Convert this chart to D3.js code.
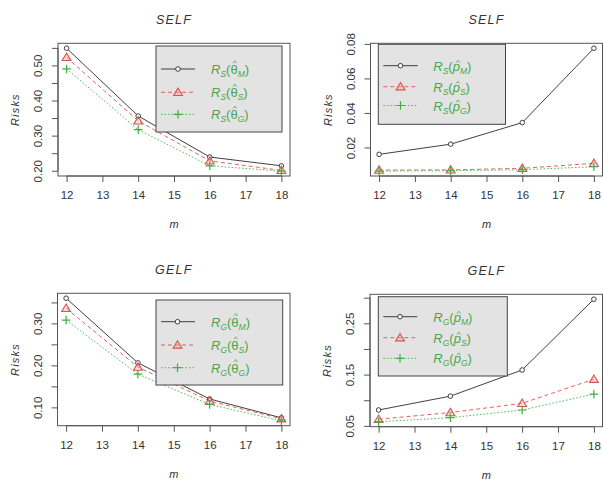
<!DOCTYPE html>
<html>
<head>
<meta charset="utf-8">
<script src="https://cdn.jsdelivr.net/npm/d3@7"></script>
<style>
  html, body { margin: 0; padding: 0; background: #fff; }
  svg { display: block; font-family: "Liberation Sans", Arial, sans-serif; }
</style>
</head>
<body>
<svg id="chart" width="603" height="480"></svg>
<script>
// ---------------- data ----------------
const mValues = [12, 14, 16, 18];
const xTicks = [12, 13, 14, 15, 16, 17, 18];

// SELF, theta estimators
const selfThetaM = [0.549, 0.356, 0.239, 0.214];
const selfThetaS = [0.523, 0.342, 0.228, 0.201];
const selfThetaG = [0.490, 0.317, 0.214, 0.199];
// SELF, p estimators
const selfPM = [0.0160, 0.0219, 0.0344, 0.0775];
const selfPS = [0.0069, 0.0070, 0.0079, 0.0108];
const selfPG = [0.0063, 0.0065, 0.0071, 0.0088];
// GELF, theta estimators
const gelfThetaM = [0.360, 0.206, 0.120, 0.075];
const gelfThetaS = [0.336, 0.196, 0.115, 0.073];
const gelfThetaG = [0.308, 0.179, 0.107, 0.068];
// GELF, p estimators
const gelfPM = [0.081, 0.108, 0.159, 0.297];
const gelfPS = [0.063, 0.076, 0.094, 0.141];
const gelfPG = [0.058, 0.066, 0.081, 0.112];

// y ticks and labelled ticks
const yTicksSelfTheta = [0.20, 0.25, 0.30, 0.35, 0.40, 0.45, 0.50, 0.55];
const yLabelsSelfTheta = [0.20, 0.30, 0.40, 0.50];
const yTicksSelfP = [0.02, 0.04, 0.06, 0.08];
const yLabelsSelfP = [0.02, 0.04, 0.06, 0.08];
const yTicksGelfTheta = [0.10, 0.15, 0.20, 0.25, 0.30, 0.35];
const yLabelsGelfTheta = [0.10, 0.20, 0.30];
const yTicksGelfP = [0.05, 0.10, 0.15, 0.20, 0.25, 0.30];
const yLabelsGelfP = [0.05, 0.15, 0.25];

const titles = ["SELF", "SELF", "GELF", "GELF"];
const estimatorSubs = ["M", "S", "G"];

// ---------------- styles ----------------
const seriesStyle = [
  { color: "#2b2b2b", dash: null, width: 0.9, shape: "circle" },
  { color: "#d9534f", dash: "4,3", width: 0.9, shape: "triangle" },
  { color: "#3cb043", dash: "1.5,2", width: 0.9, shape: "plus" }
];
const legendTextColor = "#4aa64a";

const panels = [
  { title: titles[0], loss: "S", param: "θ", series: [selfThetaM, selfThetaS, selfThetaG],
    ticks: yTicksSelfTheta, labels: yLabelsSelfTheta, fmt: ".2f",
    box: { x0: 58, x1: 290, y0: 43.3, y1: 176 },
    legend: { x0: 156, x1: 282, y0: 46, y1: 132, rows: [69, 92.3, 114.3], lx0: 161, lx1: 195, sx: 178, tx: 211 } },
  { title: titles[1], loss: "S", param: "p", series: [selfPM, selfPS, selfPG],
    ticks: yTicksSelfP, labels: yLabelsSelfP, fmt: ".2f",
    box: { x0: 370.5, x1: 602.5, y0: 43.3, y1: 176 },
    legend: { x0: 378.3, x1: 505.5, y0: 44.3, y1: 124.3, rows: [65.7, 86.7, 105.5], lx0: 383.3, lx1: 417.7, sx: 400.5, tx: 433.3 } },
  { title: titles[2], loss: "G", param: "θ", series: [gelfThetaM, gelfThetaS, gelfThetaG],
    ticks: yTicksGelfTheta, labels: yLabelsGelfTheta, fmt: ".2f",
    box: { x0: 57.5, x1: 290, y0: 293.3, y1: 425.7 },
    legend: { x0: 156, x1: 282.7, y0: 300, y1: 385, rows: [321.7, 345, 367.7], lx0: 161, lx1: 195, sx: 177.5, tx: 211 } },
  { title: titles[3], loss: "G", param: "p", series: [gelfPM, gelfPS, gelfPG],
    ticks: yTicksGelfP, labels: yLabelsGelfP, fmt: ".2f",
    box: { x0: 370, x1: 602.5, y0: 294.3, y1: 426.7 },
    legend: { x0: 378.3, x1: 507.3, y0: 296.7, y1: 376, rows: [316.7, 337.7, 358.3], lx0: 383.3, lx1: 417.3, sx: 400, tx: 433.3 } }
];

const svg = d3.select("#chart");

function drawSymbol(g, shape, x, y, color) {
  if (shape === "circle") {
    g.append("circle").attr("cx", x).attr("cy", y).attr("r", 2.3)
      .attr("fill", "#fff").attr("stroke", color).attr("stroke-width", 0.9);
  } else if (shape === "triangle") {
    const s = 4.2;
    g.append("path")
      .attr("d", `M${x},${y - s} L${x + s * 1.05},${y + s * 0.75} L${x - s * 1.05},${y + s * 0.75} Z`)
      .attr("fill", "rgba(240,170,150,0.35)").attr("stroke", color).attr("stroke-width", 1.1);
  } else {
    const s = 4.3;
    g.append("path")
      .attr("d", `M${x - s},${y} H${x + s} M${x},${y - s} V${y + s}`)
      .attr("stroke", color).attr("stroke-width", 1.2).attr("fill", "none");
  }
}

function legendLabel(g, x, y, loss, param, sub) {
  const t = g.append("text").attr("x", x).attr("y", y + 5).attr("fill", legendTextColor)
    .attr("font-size", 13);
  t.append("tspan").text("R").attr("font-style", "italic");
  t.append("tspan").text(loss).attr("font-size", 8.5).attr("font-style", "italic").attr("dy", 3);
  t.append("tspan").text("(").attr("dy", -3);
  t.append("tspan").text(param).attr("font-style", param === "p" ? "italic" : "normal");
  t.append("tspan").text(sub).attr("font-size", 8.5).attr("font-style", "italic").attr("dy", 3);
  t.append("tspan").text(")").attr("dy", -3);
  // hat over the parameter symbol (character index 3), drawn as a small chevron
  const ext = t.node().getExtentOfChar(3);
  const hx = ext.x + ext.width / 2 + (param === "p" ? 1.5 : 0.8);
  const hy = ext.y - (param === "p" ? -1.5 : 1.2);
  g.append("path").attr("d", `M${hx - 1.8},${hy + 2.4} L${hx},${hy} L${hx + 1.8},${hy + 2.4}`)
    .attr("fill", "none").attr("stroke", legendTextColor).attr("stroke-width", 0.8);
}

panels.forEach(p => {
  const g = svg.append("g");
  const b = p.box;
  const all = p.series.flat();
  const lo = d3.min(all), hi = d3.max(all), pad = (hi - lo) * 0.04;
  const x = d3.scaleLinear().domain([11.76, 18.24]).range([b.x0, b.x1]);
  const y = d3.scaleLinear().domain([lo - pad, hi + pad]).range([b.y1, b.y0]);

  // series lines and points
  p.series.forEach((vals, i) => {
    const st = seriesStyle[i];
    const line = d3.line().x((d, j) => x(mValues[j])).y(d => y(d));
    g.append("path").datum(vals).attr("d", line).attr("fill", "none")
      .attr("stroke", st.color).attr("stroke-width", st.width)
      .attr("stroke-dasharray", st.dash);
  });
  p.series.forEach((vals, i) => {
    const st = seriesStyle[i];
    vals.forEach((v, j) => drawSymbol(g, st.shape, x(mValues[j]), y(v), st.color));
  });

  // box
  g.append("rect").attr("x", b.x0).attr("y", b.y0).attr("width", b.x1 - b.x0).attr("height", b.y1 - b.y0)
    .attr("fill", "none").attr("stroke", "#555").attr("stroke-width", 1);

  // x axis
  const xAxis = d3.axisBottom(x).tickValues(xTicks).tickSize(6).tickPadding(9).tickFormat(d3.format("d"));
  const xg = g.append("g").attr("transform", `translate(0,${b.y1})`).call(xAxis);
  xg.select(".domain").attr("stroke", "#555").attr("d", `M${x(12)},0H${x(18)}`);
  xg.selectAll(".tick line").attr("stroke", "#555");
  xg.selectAll(".tick text").attr("font-size", 11.5).attr("fill", "#333")
    .attr("font-family", "Liberation Sans, Arial, sans-serif");

  // y axis
  const yAxis = d3.axisLeft(y).tickValues(p.ticks).tickSize(6)
    .tickFormat(d => p.labels.some(l => Math.abs(l - d) < 1e-9) ? d3.format(p.fmt)(d) : "");
  const yg = g.append("g").attr("transform", `translate(${b.x0},0)`).call(yAxis);
  yg.select(".domain").attr("stroke", "#555")
    .attr("d", `M0,${y(p.ticks[0])}V${y(p.ticks[p.ticks.length - 1])}`);
  yg.selectAll(".tick line").attr("stroke", "#555");
  yg.selectAll(".tick text").attr("font-size", 11.5).attr("fill", "#333")
    .attr("font-family", "Liberation Sans, Arial, sans-serif")
    .attr("x", null).attr("dy", null).attr("text-anchor", "middle")
    .attr("transform", "translate(-16,0) rotate(-90)");

  // titles
  g.append("text").attr("x", (b.x0 + b.x1) / 2).attr("y", b.y0 - 19.5).attr("text-anchor", "middle")
    .attr("font-size", 12.5).attr("font-style", "italic").attr("letter-spacing", 1.2)
    .attr("fill", "#333").text(p.title);
  g.append("text").attr("x", (b.x0 + b.x1) / 2).attr("y", b.y1 + 52).attr("text-anchor", "middle")
    .attr("font-size", 11).attr("font-style", "italic").attr("fill", "#333").text("m");
  g.append("text").attr("transform", `translate(${b.x0 - 39},${(b.y0 + b.y1) / 2}) rotate(-90)`)
    .attr("text-anchor", "middle").attr("font-size", 11).attr("font-style", "italic")
    .attr("letter-spacing", 1.2).attr("fill", "#333").text("Risks");

  // legend
  const L = p.legend;
  g.append("rect").attr("x", L.x0).attr("y", L.y0).attr("width", L.x1 - L.x0).attr("height", L.y1 - L.y0)
    .attr("fill", "#e3e3e3").attr("stroke", "#444").attr("stroke-width", 1);
  seriesStyle.forEach((st, i) => {
    const ry = L.rows[i];
    g.append("line").attr("x1", L.lx0).attr("x2", L.lx1).attr("y1", ry).attr("y2", ry)
      .attr("stroke", st.color).attr("stroke-width", st.width).attr("stroke-dasharray", st.dash);
    drawSymbol(g, st.shape, L.sx, ry, st.color);
    legendLabel(g, L.tx, ry, p.loss, p.param, estimatorSubs[i]);
  });
});
</script>
</body>
</html>
